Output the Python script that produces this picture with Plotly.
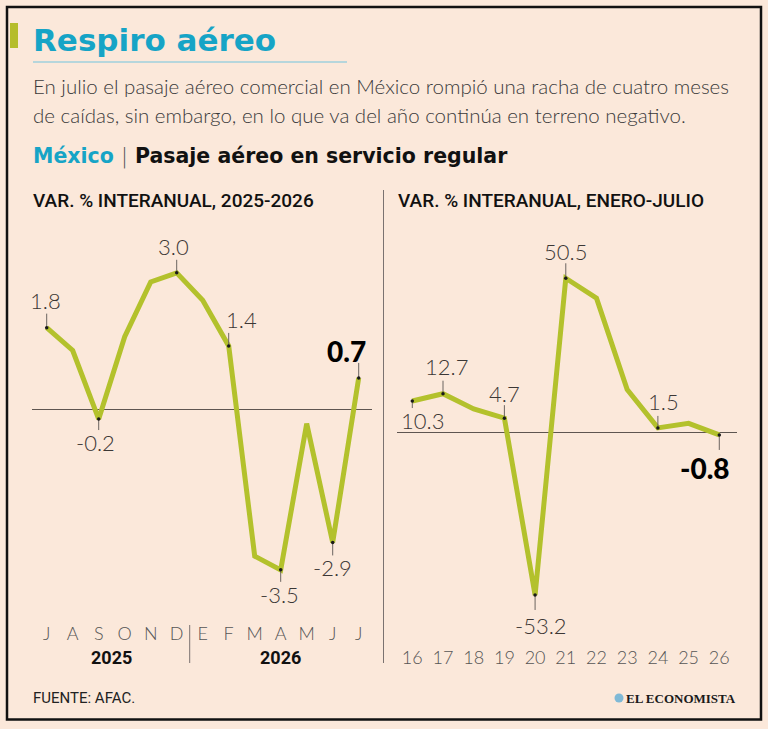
import plotly.graph_objects as go

# ---------------- data ----------------
meses = ["J", "A", "S", "O", "N", "D", "E", "F", "M", "A", "M", "J", "J"]
var_mensual = [1.8, 1.3, -0.2, 1.6, 2.8, 3.0, 2.4, 1.4, -3.2, -3.5, -0.3, -2.9, 0.7]
anios_grupo = ["2025", "2026"]

anios = ["16", "17", "18", "19", "20", "21", "22", "23", "24", "25", "26"]
var_anual = [10.3, 12.7, 7.7, 4.7, -53.2, 50.5, 44.0, 14.1, 1.5, 3.0, -0.8]

# indices of points that carry a value label
etiquetas_mensual = [0, 2, 5, 7, 9, 11, 12]
etiquetas_anual = [0, 1, 3, 4, 5, 8, 10]

# ---------------- style / layout helpers ----------------
W, H = 768, 729
BG = "#fbe8da"
GREEN = "#b3c12c"
TEAL = "#16a4c6"
LIGHT = "Lato, 'Open Sans', sans-serif"
WIDE = "'DejaVu Sans', Lato, sans-serif"
COND = "Roboto, 'Noto Sans', sans-serif"


def fx(px):
    return px / W


def fy(py):
    return 1 - py / H


PLOT_TOP, PLOT_BOT = 240, 615
L_X0, L_X1 = 31.7, 371.7
R_X0, R_X1 = 396.7, 736.7

# left y scale: zero at 409.9 px, 45.7 px per unit
L_ZERO, L_PPU = 409.9, 45.7
L_RANGE = [-(PLOT_BOT - L_ZERO) / L_PPU, (L_ZERO - PLOT_TOP) / L_PPU]
# right y scale: zero at 432.5 px, 3.054 px per unit
R_ZERO, R_PPU = 432.5, 3.054
R_RANGE = [-(PLOT_BOT - R_ZERO) / R_PPU, (R_ZERO - PLOT_TOP) / R_PPU]

L_XRANGE = [-0.577, 12.5]
R_XRANGE = [-0.508, 10.567]

# label style per labelled point: (dx, dy, leader px (+up / -down), anchor, bold)
estilo_mensual = {
    0: (-1, 27, 14, "center", False),
    2: (-3, -23, -11, "center", False),
    5: (-3, 26, 13, "center", False),
    7: (13, 26, 13, "center", False),
    9: (-1, -25, -12, "center", False),
    11: (0, -25, -13, "center", False),
    12: (-12, 27, 15, "center", True),
}
estilo_anual = {
    0: (10, -19, -7, "center", False),
    1: (4, 27, 13, "center", False),
    3: (0, 25, 13, "center", False),
    4: (6, -31, -15, "center", False),
    5: (0, 27, 15, "center", False),
    8: (6, 26, 12, "center", False),
    10: (-14, -33, -15, "center", True),
}

fig = go.Figure()

# main lines
fig.add_trace(go.Scatter(
    x=list(range(len(meses))), y=var_mensual, mode="lines",
    line=dict(color=GREEN, width=5), xaxis="x", yaxis="y",
    hoverinfo="skip", showlegend=False))
fig.add_trace(go.Scatter(
    x=list(range(len(anios))), y=var_anual, mode="lines",
    line=dict(color=GREEN, width=5), xaxis="x2", yaxis="y2",
    hoverinfo="skip", showlegend=False))


def leader_trace(idx, values, estilo, ppu, xa, ya):
    ys = [values[i] for i in idx]
    up = [max(estilo[i][2], 0) / ppu for i in idx]
    dn = [max(-estilo[i][2], 0) / ppu for i in idx]
    return go.Scatter(
        x=idx, y=ys, mode="markers",
        marker=dict(size=3.5, color="#1a1a1a"),
        error_y=dict(type="data", symmetric=False, array=up, arrayminus=dn,
                     width=0, thickness=1, color="#6b6460"),
        xaxis=xa, yaxis=ya, hoverinfo="skip", showlegend=False)


fig.add_trace(leader_trace(etiquetas_mensual, var_mensual, estilo_mensual, L_PPU, "x", "y"))
fig.add_trace(leader_trace(etiquetas_anual, var_anual, estilo_anual, R_PPU, "x2", "y2"))

annotations = []


def add_labels(idx, values, estilo, xref, yref):
    for i in idx:
        dx, dy, _, anchor, bold = estilo[i]
        v = values[i]
        annotations.append(dict(
            x=i, y=v, xref=xref, yref=yref, text=f"{v:.1f}", showarrow=False,
            xshift=dx, yshift=dy, xanchor=anchor, yanchor="middle",
            font=dict(family=LIGHT, size=28 if bold else 22,
                      color="#000" if bold else "#3b3735",
                      weight=900 if bold else 300)))


add_labels(etiquetas_mensual, var_mensual, estilo_mensual, "x", "y")
add_labels(etiquetas_anual, var_anual, estilo_anual, "x2", "y2")

# year group labels under the monthly axis
for nombre, centro in zip(anios_grupo, [2.5, 9]):
    annotations.append(dict(
        x=centro, y=fy(657), xref="x", yref="paper", text=nombre,
        showarrow=False, xanchor="center", yanchor="middle",
        font=dict(family=COND, size=18, color="#111", weight=700)))

# header texts
annotations += [
    dict(x=fx(31), y=fy(40), xref="paper", yref="paper", xanchor="left", yanchor="middle",
         text="Respiro aéreo", showarrow=False,
         font=dict(family=WIDE, size=31, color=TEAL, weight=700)),
    dict(x=fx(31), y=fy(86), xref="paper", yref="paper", xanchor="left", yanchor="middle",
         text="En julio el pasaje aéreo comercial en México rompió una racha de cuatro meses",
         showarrow=False, font=dict(family=LIGHT, size=20.5, color="#3a3a3a", weight=300)),
    dict(x=fx(31), y=fy(115), xref="paper", yref="paper", xanchor="left", yanchor="middle",
         text="de caídas, sin embargo, en lo que va del año continúa en terreno negativo.",
         showarrow=False, font=dict(family=LIGHT, size=20.5, color="#3a3a3a", weight=300)),
    dict(x=fx(31), y=fy(156), xref="paper", yref="paper", xanchor="left", yanchor="middle",
         text=f"<span style='color:{TEAL}'>México</span> <span style='color:#555;font-weight:300'>|</span> Pasaje aéreo en servicio regular",
         showarrow=False, font=dict(family=WIDE, size=20.5, color="#111", weight=700)),
    dict(x=fx(31), y=fy(200), xref="paper", yref="paper", xanchor="left", yanchor="middle",
         text="VAR. % INTERANUAL, 2025-2026", showarrow=False,
         font=dict(family=COND, size=19, color="#111", weight=500)),
    dict(x=fx(396), y=fy(200), xref="paper", yref="paper", xanchor="left", yanchor="middle",
         text="VAR. % INTERANUAL, ENERO-JULIO", showarrow=False,
         font=dict(family=COND, size=19, color="#111", weight=500)),
    dict(x=fx(31), y=fy(698), xref="paper", yref="paper", xanchor="left", yanchor="middle",
         text="FUENTE: AFAC.", showarrow=False,
         font=dict(family=COND, size=15, color="#222", weight=400)),
    dict(x=fx(738), y=fy(698), xref="paper", yref="paper", xanchor="right", yanchor="middle",
         text="EL ECONOMISTA", showarrow=False,
         font=dict(family="'Liberation Serif', 'DejaVu Serif', serif", size=13,
                   color="#1a1a1a", weight=700)),
]

shapes = [
    # frame
    dict(type="rect", xref="paper", yref="paper", x0=fx(7), x1=fx(761), y0=fy(719.5), y1=fy(7),
         line=dict(color="#111", width=2.5)),
    # green accent bar
    dict(type="rect", xref="paper", yref="paper", x0=fx(10), x1=fx(18), y0=fy(48), y1=fy(23),
         fillcolor="#b5bd2c", line=dict(width=0)),
    # title underline
    dict(type="line", xref="paper", yref="paper", x0=fx(33), x1=fx(347), y0=fy(62), y1=fy(62),
         line=dict(color="#9fd0dc", width=1.5)),
    # panel separator
    dict(type="line", xref="paper", yref="paper", x0=fx(383.5), x1=fx(383.5), y0=fy(663), y1=fy(190),
         line=dict(color="#7a7270", width=1)),
    # year separator (between D and E)
    dict(type="line", xref="x", yref="paper", x0=5.5, x1=5.5, y0=fy(663), y1=fy(625),
         line=dict(color="#7a7270", width=1)),
    # logo globe
    dict(type="circle", xref="paper", yref="paper", x0=fx(614.5), x1=fx(623.5), y0=fy(702.5), y1=fy(693.5),
         fillcolor="#7fb9d6", line=dict(width=0)),
]

axis_common = dict(showgrid=False, showline=False, ticks="", fixedrange=True)

fig.update_layout(
    width=W, height=H,
    margin=dict(l=0, r=0, t=0, b=0),
    paper_bgcolor=BG, plot_bgcolor="rgba(0,0,0,0)",
    showlegend=False,
    xaxis=dict(domain=[fx(L_X0), fx(L_X1)], range=L_XRANGE, tickmode="array",
               tickvals=list(range(len(meses))), ticktext=meses,
               tickfont=dict(family=LIGHT, size=18, color="#555", weight=300),
               ticklabelstandoff=6, zeroline=False, anchor="y", **axis_common),
    yaxis=dict(domain=[fy(PLOT_BOT), fy(PLOT_TOP)], range=L_RANGE, showticklabels=False,
               zeroline=True, zerolinecolor="#5e5550", zerolinewidth=1, anchor="x", **axis_common),
    xaxis2=dict(domain=[fx(R_X0), fx(R_X1)], range=R_XRANGE, tickmode="array",
                tickvals=list(range(len(anios))), ticktext=anios,
                tickfont=dict(family=LIGHT, size=18, color="#555", weight=300),
                ticklabelstandoff=30, zeroline=False, anchor="y2", **axis_common),
    yaxis2=dict(domain=[fy(PLOT_BOT), fy(PLOT_TOP)], range=R_RANGE, showticklabels=False,
                zeroline=True, zerolinecolor="#5e5550", zerolinewidth=1, anchor="x2", **axis_common),
    annotations=annotations,
    shapes=shapes,
)

fig.write_html("out.html", config={"displayModeBar": False, "staticPlot": True},
               post_script="document.body.style.margin='0';")
